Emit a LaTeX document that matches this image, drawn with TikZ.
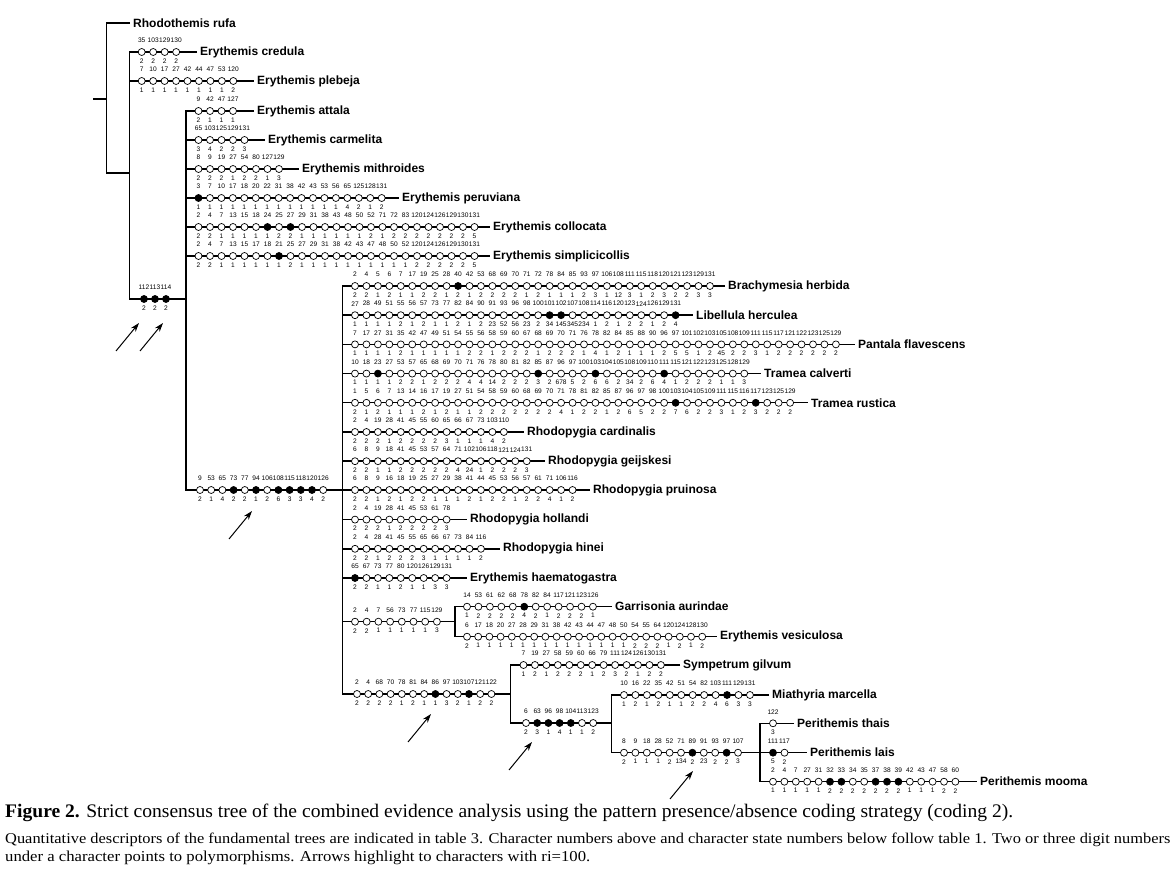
\documentclass[tikz,border=0pt]{standalone}
\usepackage{fontspec}
\setmainfont{Liberation Serif}
\setsansfont{Liberation Sans}
\usetikzlibrary{arrows.meta}

% one row of apomorphies: name, x of first circle, y, spacing, list char/state/filled
\newcommand{\apomorphies}[5]{%
  \foreach \cn/\st/\fl [count=\i from 0] in {#5} {
    \ifnum\fl=1
      \node[apo, fill=black] (#1-\i) at ({#2+\i*#4},#3) {};
    \else
      \node[apo] (#1-\i) at ({#2+\i*#4},#3) {};
    \fi
    \node[charno] (#1-c\i) at ({#2+\i*#4},{#3-11.5}) {\cn};
    \node[charno] (#1-s\i) at ({#2+\i*#4},{#3+9}) {\st};
  }}

\tikzset{
  taxon/.style={anchor=west, font=\sffamily\bfseries\fontsize{12}{12}\selectfont, inner xsep=3pt, inner ysep=0pt},
  charno/.style={font=\sffamily\fontsize{6.6}{6.6}\selectfont, inner sep=0pt},
  apo/.style={circle, draw, fill=white, minimum size=7pt, inner sep=0pt, line width=0.7pt},
  branch/.style={line width=1.4pt},
  riarrow/.style={-{Stealth[length=9pt,width=6pt]}, line width=1pt},
}

\begin{document}
\begin{tikzpicture}[x=1pt, y=-1pt]
  \useasboundingbox (0,0) rectangle (1176,882);

  % inner nodes of the tree
  \coordinate (root) at (93,99);
  \coordinate (nA) at (106.5,99);
  \coordinate (nB) at (129.3,173);
  \coordinate (nC) at (186,299);
  \coordinate (nD) at (342.7,490);
  \coordinate (nE) at (455,621.7);
  \coordinate (nF) at (510.7,694);
  \coordinate (nG) at (611.7,723);
  \coordinate (nH) at (760,752.7);

  % terminal taxa
  \node[taxon] (rufa) at (130,23) {Rhodothemis rufa};
  \node[taxon] (credula) at (197,52) {Erythemis credula};
  \node[taxon] (plebeja) at (254,81) {Erythemis plebeja};
  \node[taxon] (attala) at (254,111) {Erythemis attala};
  \node[taxon] (carmelita) at (265,140) {Erythemis carmelita};
  \node[taxon] (mithroides) at (299,169) {Erythemis mithroides};
  \node[taxon] (peruviana) at (399,198) {Erythemis peruviana};
  \node[taxon] (collocata) at (490,227) {Erythemis collocata};
  \node[taxon] (simplicicollis) at (490,256) {Erythemis simplicicollis};
  \node[taxon] (brachymesia) at (725,286) {Brachymesia herbida};
  \node[taxon] (libellula) at (693,315.2) {Libellula herculea};
  \node[taxon] (pantala) at (855,344.4) {Pantala flavescens};
  \node[taxon] (calverti) at (761,373.6) {Tramea calverti};
  \node[taxon] (rustica) at (808,402.8) {Tramea rustica};
  \node[taxon] (cardinalis) at (524,432) {Rhodopygia cardinalis};
  \node[taxon] (geijskesi) at (545,461.2) {Rhodopygia geijskesi};
  \node[taxon] (pruinosa) at (590,490) {Rhodopygia pruinosa};
  \node[taxon] (hollandi) at (467,519.6) {Rhodopygia hollandi};
  \node[taxon] (hinei) at (500,548.8) {Rhodopygia hinei};
  \node[taxon] (haematogastra) at (467,578) {Erythemis haematogastra};
  \node[taxon] (garrisonia) at (612,606.7) {Garrisonia aurindae};
  \node[taxon] (vesiculosa) at (717,636.7) {Erythemis vesiculosa};
  \node[taxon] (sympetrum) at (680,665) {Sympetrum gilvum};
  \node[taxon] (miathyria) at (769,695) {Miathyria marcella};
  \node[taxon] (thais) at (794,723.3) {Perithemis thais};
  \node[taxon] (lais) at (807,752.7) {Perithemis lais};
  \node[taxon] (mooma) at (977,781.7) {Perithemis mooma};

  % branches
  \draw[branch] (root) -- (nA);
  \draw[branch] (rufa.west) -| (nA) |- (nB);
  \draw[branch] (credula.west) -| (nB) |- (nC);
  \draw[branch] (nB |- plebeja) -- (plebeja.west);
  \draw[branch] (attala.west) -| (nC) |- (nD);
  \foreach \t in {carmelita, mithroides, peruviana, collocata, simplicicollis}
    \draw[branch] (nC |- \t) -- (\t.west);
  \draw[branch] (brachymesia.west) -| (nD) |- (nF);
  \foreach \t in {libellula, pantala, calverti, rustica, cardinalis, geijskesi,
                  pruinosa, hollandi, hinei, haematogastra}
    \draw[branch] (nD |- \t) -- (\t.west);
  \draw[branch] (nD |- nE) -- (nE);
  \draw[branch] (garrisonia.west) -| (nE) |- (vesiculosa.west);
  \draw[branch] (sympetrum.west) -| (nF) |- (nG);
  \draw[branch] (miathyria.west) -| (nG) |- (nH);
  \draw[branch] (thais.west) -| (nH) |- (mooma.west);
  \draw[branch] (nH) -- (lais.west);

  % apomorphies
  \apomorphies{cre}{141.7}{52}{11.5}{35/2/0,103/2/0,129/2/0,130/2/0}
  \apomorphies{ple}{141.7}{81}{11.45}{7/1/0,10/1/0,17/1/0,27/1/0,42/1/0,44/1/0,47/1/0,53/1/0,120/2/0}
  \apomorphies{bc}{144}{299}{11}{112/2/1,113/2/1,114/2/1}
  \apomorphies{att}{198.5}{111}{11.5}{9/2/0,42/1/0,47/1/0,127/1/0}
  \apomorphies{car}{198.5}{140}{11.5}{65/3/0,103/4/0,125/2/0,129/2/0,131/3/0}
  \apomorphies{mit}{198.5}{169}{11.5}{8/2/0,9/2/0,19/2/0,27/1/0,54/2/0,80/2/0,127/1/0,129/3/0}
  \apomorphies{per}{198.5}{198}{11.45}{3/1/1,7/1/0,10/1/0,17/1/0,18/1/0,20/1/0,22/1/0,31/1/0,38/1/0,42/1/0,43/1/0,53/1/0,56/1/0,65/4/0,125/2/0,128/1/0,131/2/0}
  \apomorphies{col}{198.5}{227}{11.5}{2/2/0,4/2/0,7/1/0,13/1/0,15/1/0,18/1/0,24/1/1,25/2/0,27/2/1,29/1/0,31/1/0,38/1/0,43/1/0,48/1/0,50/1/0,52/2/0,71/1/0,72/2/0,83/2/0,120/2/0,124/2/0,126/2/0,129/2/0,130/2/0,131/5/0}
  \apomorphies{sim}{198.5}{256}{11.5}{2/2/0,4/2/0,7/1/0,13/1/0,15/1/0,17/1/0,18/1/0,21/1/1,25/2/0,27/1/0,29/1/0,31/1/0,38/1/0,42/1/0,43/1/0,47/1/0,48/1/0,50/1/0,52/1/0,120/2/0,124/2/0,126/2/0,129/2/0,130/2/0,131/5/0}
  \apomorphies{cd}{200}{490}{11.2}{9/2/0,53/1/0,65/4/0,73/2/1,77/2/0,94/1/1,106/2/0,108/6/1,115/3/1,118/3/1,120/4/1,126/2/0}
  \apomorphies{bra}{355}{286}{11.45}{2/2/0,4/2/0,5/1/0,6/2/0,7/1/0,17/1/0,19/2/0,25/2/0,28/1/0,40/2/1,42/1/0,53/2/0,68/2/0,69/2/0,70/2/0,71/1/0,72/2/0,78/1/0,84/1/0,85/1/0,93/2/0,97/3/0,106/1/0,108/12/0,111/3/0,115/1/0,118/2/0,120/3/0,121/2/0,123/2/0,129/3/0,131/3/0}
  \apomorphies{lib}{355}{315.2}{11.45}{27/1/0,28/1/0,49/1/0,51/1/0,55/2/0,56/1/0,57/2/0,73/1/0,77/1/0,82/2/0,84/1/0,90/2/0,91/23/0,93/52/0,96/56/0,98/23/0,100/2/0,101/34/1,102/145/1,107/345/0,108/234/0,114/1/0,116/2/0,120/1/0,123/2/0,124/2/0,126/1/0,129/2/0,131/4/1}
  \apomorphies{pan}{355}{344.4}{11.45}{7/1/0,17/1/0,27/1/0,31/1/0,35/2/0,42/1/0,47/1/0,49/1/0,51/1/0,54/1/0,55/2/0,56/2/0,58/1/0,59/2/0,60/2/0,67/2/0,68/1/0,69/2/0,70/2/0,71/2/0,76/1/0,78/4/0,82/1/0,84/2/0,85/1/0,88/1/0,90/1/0,96/2/0,97/5/0,101/5/0,102/1/0,103/2/0,105/45/0,108/2/0,109/2/0,111/3/0,115/1/0,117/2/0,121/2/0,122/2/0,123/2/0,125/2/0,129/2/0}
  \apomorphies{cal}{355}{373.6}{11.45}{10/1/0,18/1/0,23/1/1,27/1/0,53/2/0,57/2/0,65/1/0,68/2/0,69/2/0,70/2/0,71/4/0,76/4/0,78/14/0,80/2/0,81/2/0,82/2/0,85/3/1,87/2/0,96/678/0,97/5/0,100/2/0,103/6/1,104/6/0,105/2/0,108/34/0,109/2/0,110/6/0,111/4/1,115/1/0,121/2/0,122/2/0,123/2/0,125/1/0,128/1/0,129/3/0}
  \apomorphies{rus}{355}{402.8}{11.45}{1/2/0,5/1/0,6/2/0,7/1/0,13/1/0,14/1/0,16/2/0,17/1/0,19/2/0,27/1/0,51/1/0,54/2/0,58/2/0,59/2/0,60/2/0,68/2/0,69/2/0,70/2/0,71/4/0,78/1/0,81/2/0,82/2/0,85/1/0,87/2/0,96/6/0,97/5/0,98/2/0,100/2/0,103/7/1,104/6/0,105/2/0,109/2/0,111/3/0,115/1/0,116/2/0,117/3/1,123/2/0,125/2/0,129/2/0}
  \apomorphies{crd}{355}{432}{11.45}{2/2/0,4/2/0,19/2/0,28/1/0,41/2/0,45/2/0,55/2/0,60/2/0,65/3/0,66/1/0,67/1/0,73/1/0,103/4/0,110/2/0}
  \apomorphies{gei}{355}{461.2}{11.45}{6/2/0,8/2/0,9/1/0,18/1/0,41/2/0,45/2/0,53/2/0,57/2/0,64/2/0,71/4/0,102/24/0,106/1/0,118/2/0,121/2/0,124/2/0,131/3/0}
  \apomorphies{pru}{355}{490}{11.45}{6/2/0,8/2/0,9/1/0,16/2/0,18/1/0,19/2/0,25/2/0,27/1/0,29/1/0,38/1/0,41/2/0,44/1/0,45/2/0,53/2/0,56/1/0,57/2/0,61/2/0,71/4/0,106/1/0,116/2/0}
  \apomorphies{hol}{355}{519.6}{11.45}{2/2/0,4/2/0,19/2/0,28/1/0,41/2/0,45/2/0,53/2/0,61/2/0,78/3/0}
  \apomorphies{hin}{355}{548.8}{11.45}{2/2/0,4/2/0,28/1/0,41/2/0,45/2/0,55/2/0,65/3/0,66/1/0,67/1/0,73/1/0,84/1/0,116/2/0}
  \apomorphies{hae}{355}{578}{11.45}{65/2/1,67/2/0,73/1/0,77/1/0,80/2/0,120/1/0,126/1/0,129/3/0,131/3/0}
  \apomorphies{ce}{355}{621.7}{11.7}{2/2/0,4/2/0,7/1/0,56/1/0,73/1/0,77/1/0,115/1/0,129/3/0}
  \apomorphies{gar}{467}{606.7}{11.45}{14/1/0,53/2/0,61/2/0,62/2/0,68/2/0,78/4/1,82/2/0,84/1/0,117/2/0,121/2/0,123/2/0,126/1/0}
  \apomorphies{ves}{467}{636.7}{11.2}{6/2/0,17/1/0,18/1/0,20/1/0,27/1/0,28/1/0,29/1/0,31/1/0,38/1/0,42/1/0,43/1/0,44/1/0,47/1/0,48/1/0,50/1/0,54/2/0,55/2/0,64/2/0,120/1/0,124/2/0,128/1/0,130/2/0}
  \apomorphies{cf}{357}{694}{11.2}{2/2/0,4/2/0,68/2/0,70/2/0,78/1/0,81/2/0,84/1/0,86/1/1,97/3/0,103/2/0,107/1/1,121/2/0,122/2/0}
  \apomorphies{sym}{523.5}{665}{11.45}{7/1/0,19/2/0,27/1/0,58/2/0,59/2/0,60/2/0,66/1/0,79/2/0,111/3/0,124/2/0,126/1/0,130/2/0,131/2/0}
  \apomorphies{cg}{526}{723}{11.2}{6/2/0,63/3/1,96/1/1,98/4/1,104/1/1,113/1/0,123/2/0}
  \apomorphies{mia}{624}{695}{11.45}{10/1/0,16/2/0,22/1/0,35/2/0,42/1/0,51/1/0,54/2/0,82/2/0,103/4/0,111/6/1,129/3/0,131/3/0}
  \apomorphies{ch}{624}{752.7}{11.4}{8/2/0,9/1/0,18/1/0,28/1/0,52/2/0,71/134/0,89/2/1,91/23/0,93/2/0,97/2/1,107/3/0}
  \apomorphies{tha}{773}{723.3}{11.5}{122/3/0}
  \apomorphies{lai}{773}{752.7}{11.5}{111/5/1,117/2/0}
  \apomorphies{moo}{773}{781.7}{11.4}{2/1/0,4/1/0,7/1/0,27/1/0,31/1/0,32/2/1,33/2/1,34/2/0,35/2/0,37/2/1,38/2/1,39/2/1,42/1/0,43/1/0,47/1/0,58/2/0,60/2/0}

  % characters with ri=100
  \foreach \x/\y [count=\k] in {139/323, 163/323, 252/511, 431/714, 532/742, 693/771} {
    \coordinate (ri\k) at (\x,\y);
    \draw[riarrow] (ri\k) ++(-23,28) -- (ri\k);
  }

  % caption
  \node[anchor=west, inner sep=0pt] (cap1) at (5,813)
    {\resizebox{1008pt}{13.5pt}{\fontsize{18}{18}\selectfont\textbf{Figure 2.} Strict consensus tree of the combined evidence analysis using the pattern presence/absence coding strategy (coding 2).}};
  \node[anchor=west, inner sep=0pt] (cap2) at (5,840)
    {\resizebox{1165pt}{10.5pt}{\fontsize{14}{14}\selectfont Quantitative descriptors of the fundamental trees are indicated in table 3. Character numbers above and character state numbers below follow table 1. Two or three digit numbers}};
  \node[anchor=west, inner sep=0pt] (cap3) at (5,858)
    {\resizebox{585pt}{10.5pt}{\fontsize{14}{14}\selectfont under a character points to polymorphisms. Arrows highlight to characters with ri=100.}};
\end{tikzpicture}
\end{document}
